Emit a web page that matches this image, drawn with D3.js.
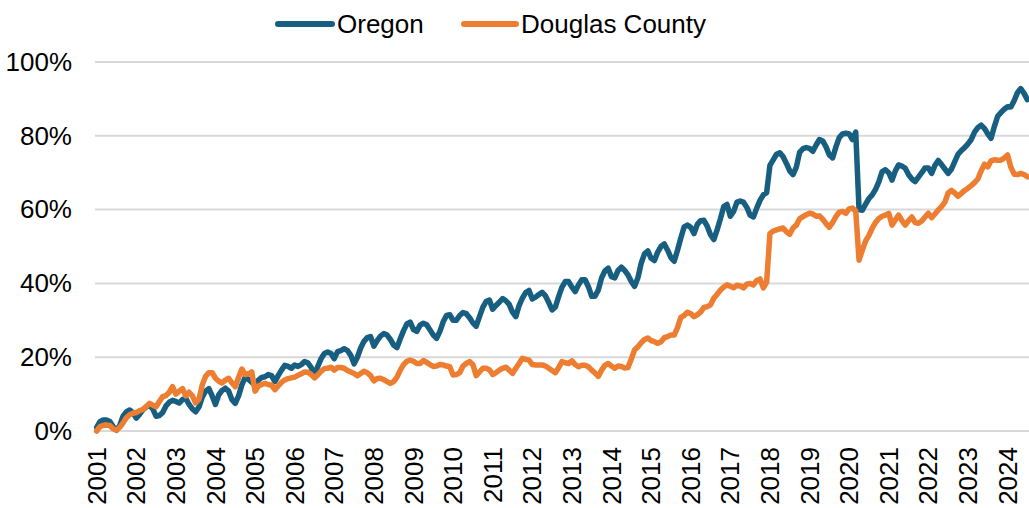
<!DOCTYPE html>
<html>
<head>
<meta charset="utf-8">
<script src="https://cdn.jsdelivr.net/npm/d3@7"></script>
<style>
  html, body { margin: 0; padding: 0; background: #fff; }
  svg { display: block; }
  text { font-family: "Liberation Sans", Arial, sans-serif; fill: #000; }
</style>
</head>
<body>
<svg id="chart" width="1029" height="508"></svg>
<script>
// Categories: monthly, January 2001 through July 2024
const startYear = 2001;
const yearLabels = ["2001","2002","2003","2004","2005","2006","2007","2008","2009","2010","2011","2012",
                    "2013","2014","2015","2016","2017","2018","2019","2020","2021","2022","2023","2024"];
const yTicks = [0, 0.2, 0.4, 0.6, 0.8, 1.0];
const seriesNames = ["Oregon", "Douglas County"];

// Oregon (percent), one row per year
const oregon = [
  1.0, 2.5, 3.0, 3.0, 2.6, 1.2, 0.2, 1.5, 4.0, 5.2, 5.7, 5.0,
  3.5, 4.5, 5.7, 6.5, 7.0, 6.0, 4.0, 4.2, 5.0, 6.8, 7.8, 8.3,
  8.0, 7.6, 8.5, 8.9, 7.2, 6.0, 5.2, 6.5, 9.2, 10.8, 11.5, 9.5,
  7.2, 9.8, 11.0, 11.6, 10.8, 8.5, 7.5, 9.5, 12.5, 14.5, 14.0, 13.2,
  12.5, 13.8, 14.5, 14.7, 15.3, 15.0, 13.4, 15.0, 16.5, 17.8, 17.5, 17.0,
  17.9, 17.5, 18.0, 18.8, 18.5, 17.2, 15.3, 17.5, 19.6, 21.0, 21.4, 21.0,
  19.6, 21.5, 21.8, 22.3, 21.8, 20.5, 18.2, 20.0, 22.5, 24.3, 25.3, 25.6,
  23.0, 24.5, 25.7, 26.4, 26.0, 24.8, 23.3, 22.6, 25.0, 27.2, 29.0, 29.5,
  27.5, 27.0, 28.7, 29.2, 28.8, 27.4, 26.0, 25.1, 27.0, 29.6, 31.3, 31.5,
  30.0, 30.0, 31.3, 32.1, 31.8, 30.7, 29.3, 28.4, 31.0, 33.5, 35.1, 35.5,
  33.0, 34.0, 34.9, 35.9, 35.3, 34.3, 32.2, 31.0, 34.0, 36.0, 37.5, 38.1,
  35.8, 36.3, 37.0, 37.6, 36.6, 34.8, 32.8, 33.6, 36.5, 39.0, 40.5, 40.5,
  39.0, 37.8, 39.6, 41.0, 41.0, 39.1, 36.5, 36.5, 38.2, 41.5, 43.4, 44.1,
  41.8, 41.5, 43.5, 44.4, 43.5, 42.3, 40.5, 39.2, 41.5, 45.5, 48.0, 48.8,
  46.8, 46.2, 48.5, 50.0, 50.7, 49.0, 47.0, 46.0, 49.0, 52.3, 55.3, 55.8,
  55.2, 53.5, 56.0, 57.0, 57.1, 55.5, 53.2, 51.9, 54.5, 57.5, 60.8, 61.4,
  58.2, 59.5, 62.0, 62.3, 62.0, 60.6, 58.5, 58.0, 60.4, 62.5, 64.0, 64.6,
  72.0, 73.5, 75.0, 75.4, 74.3, 72.5, 70.5, 69.5, 71.5, 75.5, 76.5, 76.8,
  76.6, 75.8, 77.5, 79.0, 78.6, 77.0, 74.8, 74.0, 77.0, 79.5, 80.5, 80.7,
  80.5, 79.0, 81.0, 60.0, 59.8, 61.5, 63.0, 64.0, 65.5, 67.5, 70.3, 70.8,
  70.0, 68.0, 70.5, 72.1, 71.8, 71.2, 69.5, 68.3, 67.6, 68.8, 70.0, 71.3,
  71.3, 69.8, 72.0, 73.3, 72.2, 71.0, 69.8, 71.0, 73.0, 75.0, 76.0, 76.8,
  77.8, 79.0, 81.0, 82.2, 82.9, 82.0, 80.5, 79.3, 82.5, 85.3, 86.3, 87.2,
  87.9, 87.8, 89.5, 91.7, 92.8, 91.5, 89.8
];

// Douglas County (percent), one row per year
const douglas = [
  0.0, 1.2, 1.5, 1.6, 1.5, 0.6, 0.2, 1.0, 2.2, 3.6, 4.4, 4.8,
  5.0, 5.5, 5.8, 6.6, 7.5, 7.0, 6.6, 8.0, 9.3, 9.6, 10.5, 12.0,
  10.0, 10.8, 11.5, 9.5, 10.5, 9.5, 7.6, 8.6, 12.5, 14.8, 15.8, 15.8,
  14.3, 13.5, 13.0, 13.8, 14.3, 13.0, 12.0, 14.5, 16.8, 15.3, 15.5, 16.0,
  10.8, 12.2, 12.6, 12.9, 12.6, 12.4, 11.2, 12.2, 13.2, 13.8, 14.2, 14.4,
  14.6, 15.1, 15.5, 16.0, 15.9, 15.3, 14.4, 15.2, 16.2, 16.9, 17.0, 17.3,
  16.5, 17.2, 17.2, 17.0, 16.4, 16.0, 15.6, 15.0, 15.6, 16.2, 15.8, 15.0,
  13.6, 14.2, 14.3, 13.9, 13.4, 12.9, 13.4, 14.6, 16.5, 18.0, 18.9, 19.2,
  18.9, 18.3, 18.3, 19.1, 18.6, 18.0, 17.5, 17.6, 18.0, 17.9, 17.6, 17.4,
  15.2, 15.3, 15.8, 17.6, 18.3, 18.8, 18.0, 15.0, 16.0, 17.0, 17.0, 16.6,
  15.3, 15.8, 16.5, 17.0, 17.3, 16.5, 15.6, 17.0, 18.3, 19.7, 19.4, 19.2,
  18.0, 17.9, 17.9, 17.9, 17.6, 17.0, 16.4, 15.8, 17.2, 18.8, 18.5, 18.3,
  19.0, 18.0, 17.4, 17.8, 17.8, 17.4, 16.5, 15.7, 14.8, 16.5, 17.8, 18.3,
  17.6, 17.0, 17.6, 17.5, 17.1, 17.2, 19.5, 22.0, 22.8, 23.9, 24.8, 25.2,
  24.5, 24.2, 23.8, 24.2, 25.3, 25.6, 26.0, 26.0, 28.0, 30.8, 31.3, 32.2,
  31.8, 31.0, 31.5, 32.2, 33.5, 33.7, 34.2, 36.0, 37.0, 38.2, 39.0, 39.6,
  39.2, 38.8, 39.5, 39.3, 38.8, 39.8, 40.0, 39.6, 40.8, 41.2, 38.8, 40.3,
  53.5, 54.2, 54.5, 54.8, 55.0, 54.0, 53.3, 55.0, 55.8, 57.5, 58.1, 58.6,
  59.0, 58.8, 58.2, 58.3, 57.4, 56.2, 55.2, 56.5, 58.1, 59.3, 59.5, 59.0,
  60.2, 60.4, 59.6, 46.3, 49.0, 51.5, 53.0, 55.0, 56.5, 57.6, 58.2, 58.5,
  59.0, 55.8, 57.2, 58.5, 57.0, 55.8, 57.0, 58.0, 56.5, 56.3, 56.9, 58.0,
  59.0, 57.8, 58.8, 59.9, 60.8, 62.0, 64.5, 65.2, 64.5, 63.6, 64.4, 65.2,
  65.8, 66.5, 67.3, 68.3, 70.5, 72.3, 71.6, 73.2, 73.5, 73.4, 73.4, 74.0,
  74.8, 71.5, 69.6, 69.5, 69.8, 69.5, 68.9
];

const colors = ["#175e80", "#ed7d31"];
const FS = 26;

const svg = d3.select("#chart");
const margin = { left: 95, right: 0, top: 62, bottom: 77 };
const W = 1029, H = 508;

const idx = d3.range(oregon.length);
const x = d3.scaleBand().domain(idx).range([margin.left, W - margin.right]).padding(0);
const xc = i => x(i) + x.bandwidth() / 2;
const y = d3.scaleLinear().domain([0, 1]).range([H - margin.bottom, margin.top]);

// gridlines
svg.append("g")
  .selectAll("line")
  .data(yTicks)
  .join("line")
  .attr("x1", margin.left)
  .attr("x2", W - margin.right)
  .attr("y1", d => y(d))
  .attr("y2", d => y(d))
  .attr("stroke", "#d9d9d9")
  .attr("stroke-width", 2);

// y axis labels
const yAxis = d3.axisLeft(y).tickValues(yTicks).tickFormat(d3.format(".0%")).tickSize(0).tickPadding(23);
const gy = svg.append("g").attr("transform", `translate(${margin.left},0)`).call(yAxis);
gy.select(".domain").remove();
gy.selectAll("text").attr("font-size", FS).attr("font-family", "Liberation Sans, Arial, sans-serif").attr("fill", "#000");

// x axis labels (one per January)
const janIdx = idx.filter(i => i % 12 === 0);
const xAxis = d3.axisBottom(x).tickValues(janIdx).tickFormat(i => yearLabels[i / 12]).tickSize(0).tickPadding(0);
const gx = svg.append("g").attr("transform", `translate(0,${y(0)})`).call(xAxis);
gx.select(".domain").remove();
gx.selectAll("text")
  .attr("font-size", FS)
  .attr("font-family", "Liberation Sans, Arial, sans-serif")
  .attr("fill", "#000")
  .attr("text-anchor", "end")
  .attr("transform", "translate(0,16) rotate(-90)")
  .attr("dx", 0)
  .attr("dy", "0.35em")
  .attr("y", 0)
  .attr("x", 0);

// lines
const line = d3.line().x((d, i) => xc(i)).y(d => y(d / 100)).curve(d3.curveLinear);
[oregon, douglas].forEach((s, k) => {
  svg.append("path")
    .datum(s)
    .attr("fill", "none")
    .attr("stroke", colors[k])
    .attr("stroke-width", 5.5)
    .attr("stroke-linejoin", "round")
    .attr("stroke-linecap", "round")
    .attr("d", line);
});

// legend
const legend = svg.append("g");
const legendItems = [
  { name: seriesNames[0], color: colors[0], x1: 278, x2: 332, tx: 337 },
  { name: seriesNames[1], color: colors[1], x1: 464, x2: 516, tx: 521 }
];
legendItems.forEach(it => {
  legend.append("line")
    .attr("x1", it.x1).attr("x2", it.x2)
    .attr("y1", 24).attr("y2", 24)
    .attr("stroke", it.color).attr("stroke-width", 6).attr("stroke-linecap", "round");
  legend.append("text")
    .attr("x", it.tx).attr("y", 24).attr("dy", "0.35em")
    .attr("font-size", FS)
    .text(it.name);
});
</script>
</body>
</html>
